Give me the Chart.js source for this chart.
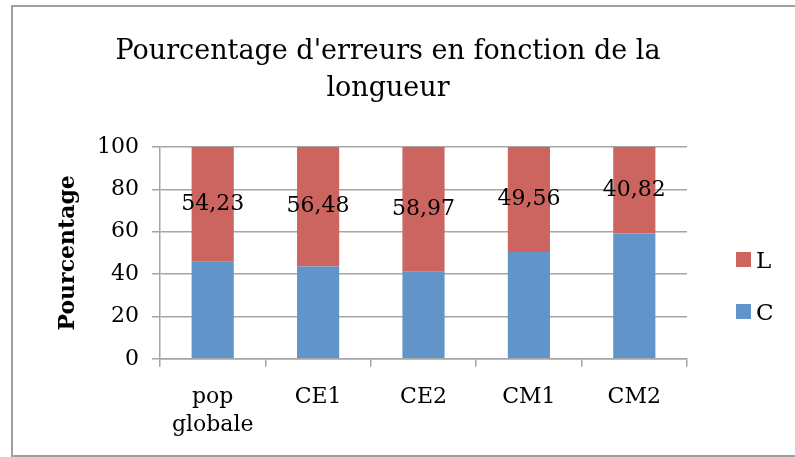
<!DOCTYPE html>
<html>
<head>
<meta charset="utf-8">
<script src="https://cdn.jsdelivr.net/npm/chart.js@4.4.0/dist/chart.umd.min.js"></script>
<style>
html,body{margin:0;padding:0;background:#fff;overflow:hidden;}
#wrap{position:absolute;left:0;top:0;width:795px;height:457px;}
</style>
</head>
<body>
<div id="wrap"><canvas id="c" width="795" height="457"></canvas></div>
<script>
const categories = [["pop", "globale"], "CE1", "CE2", "CM1", "CM2"];
const seriesC = [45.77, 43.52, 41.03, 50.44, 59.18];
const seriesL = [54.23, 56.48, 58.97, 49.56, 40.82];
const labelsL = ["54,23", "56,48", "58,97", "49,56", "40,82"];
const yTicks = [0, 20, 40, 60, 80, 100];

const FONT = "'DejaVu Serif', 'Liberation Serif', serif";
const colC = '#6195C9';
const colL = '#CC645F';
const gridCol = '#a5a5a5';

const framePlugin = {
  id: 'frame',
  beforeDraw(chart) {
    const ctx = chart.ctx;
    ctx.save();
    ctx.fillStyle = '#fff';
    ctx.fillRect(0, 0, chart.width, chart.height);
    ctx.strokeStyle = '#a0a0a0';
    ctx.lineWidth = 2;
    ctx.beginPath();
    ctx.moveTo(800, 6); ctx.lineTo(12, 6); ctx.lineTo(12, 456); ctx.lineTo(800, 456);
    ctx.stroke();
    ctx.restore();
  }
};

const valueLabels = {
  id: 'valueLabels',
  afterDatasetsDraw(chart) {
    const ctx = chart.ctx;
    const meta = chart.getDatasetMeta(1);
    ctx.save();
    ctx.font = "22px " + FONT;
    ctx.fillStyle = '#000';
    ctx.textAlign = 'center';
    ctx.textBaseline = 'middle';
    meta.data.forEach((bar, i) => {
      const p = bar.getProps(['x', 'y', 'base'], true);
      ctx.fillText(labelsL[i], p.x, (p.y + p.base) / 2);
    });
    ctx.restore();
  }
};

const customLegend = {
  id: 'customLegend',
  afterDraw(chart) {
    const ctx = chart.ctx;
    const items = [{t: chart.data.datasets[1].label, c: chart.data.datasets[1].backgroundColor, y: 259.5},
                   {t: chart.data.datasets[0].label, c: chart.data.datasets[0].backgroundColor, y: 311.5}];
    ctx.save();
    ctx.font = "23px " + FONT;
    ctx.textBaseline = 'middle';
    ctx.textAlign = 'left';
    items.forEach(it => {
      ctx.fillStyle = it.c;
      ctx.fillRect(736, it.y - 7.5, 15, 15);
      ctx.fillStyle = '#000';
      ctx.fillText(it.t, 756, it.y + 3);
    });
    ctx.restore();
  }
};

new Chart(document.getElementById('c'), {
  type: 'bar',
  data: {
    labels: categories,
    datasets: [
      {label: 'C', data: seriesC, backgroundColor: colC, barPercentage: 0.4, categoryPercentage: 1.0},
      {label: 'L', data: seriesL, backgroundColor: colL, barPercentage: 0.4, categoryPercentage: 1.0}
    ]
  },
  options: {
    responsive: false,
    animation: false,
    devicePixelRatio: 1,
    layout: {padding: {left: 89, right: 108, top: 0, bottom: 1}},
    plugins: {
      legend: {display: false},
      tooltip: {enabled: false},
      title: {
        display: true,
        text: ["Pourcentage d'erreurs en fonction de la", "longueur"],
        color: '#000',
        font: {family: FONT, size: 27, weight: 'normal', lineHeight: 1.35},
        padding: {top: 34, bottom: 40}
      }
    },
    scales: {
      x: {
        stacked: true,
        offset: true,
        grid: {offset: true, drawOnChartArea: false, drawTicks: true, tickLength: 8, color: gridCol, lineWidth: 1.5},
        border: {display: true, color: gridCol, width: 1.5},
        ticks: {color: '#000', font: {family: FONT, size: 22, lineHeight: 1.3}, padding: 16, maxRotation: 0, autoSkip: false}
      },
      y: {
        stacked: true,
        min: 0,
        max: 100,
        afterBuildTicks(scale) { scale.ticks = yTicks.map(v => ({value: v})); },
        afterFit(scale) { scale.width = 71; },
        grid: {color: gridCol, lineWidth: 1.5, tickLength: 8, drawTicks: true},
        border: {display: true, color: gridCol, width: 1.5},
        ticks: {color: '#000', font: {family: FONT, size: 22}, padding: 13},
        title: {display: true, text: 'Pourcentage', color: '#000', font: {family: FONT, size: 22, weight: 'bold', lineHeight: 1.2}, padding: {top: -34, bottom: 0}}
      }
    }
  },
  plugins: [framePlugin, valueLabels, customLegend]
});
</script>
</body>
</html>
